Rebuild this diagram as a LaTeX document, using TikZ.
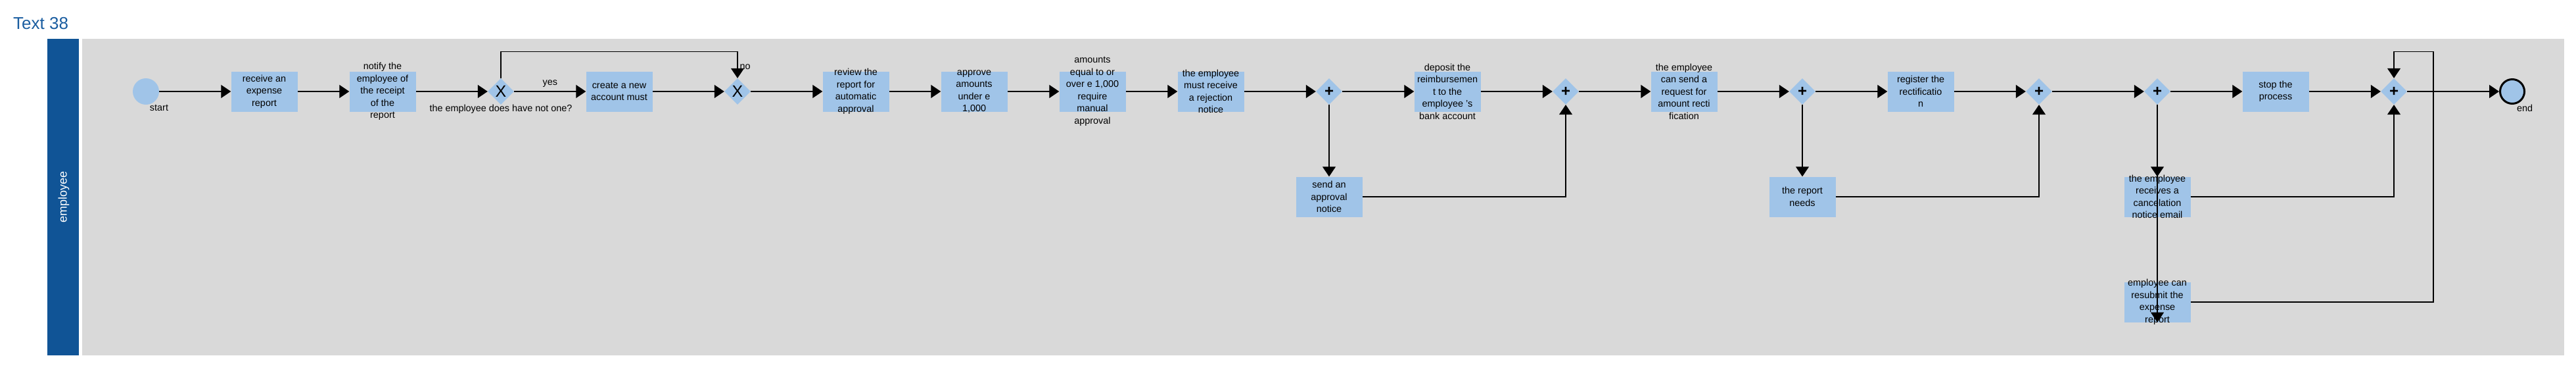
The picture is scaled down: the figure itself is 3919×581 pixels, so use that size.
\documentclass[tikz,border=0pt]{standalone}
\usepackage{fontspec}
\setmainfont{Liberation Sans}
\usepackage{tikz}
\usetikzlibrary{arrows.meta,shapes,positioning}
\usepackage{xcolor}
\definecolor{bpblue}{RGB}{16,84,150}
\definecolor{bptitle}{RGB}{26,93,160}
\definecolor{bplight}{RGB}{160,196,232}
\definecolor{bpgray}{RGB}{217,217,217}
\tikzstyle{flow} = [line width=1.2pt, -{Triangle[length=15pt,width=20pt]}]
\tikzstyle{task} = [rectangle, minimum width=101pt, minimum height=61pt, inner sep=0pt, fill=bplight]
\tikzstyle{tasktext} = [align=center, inner sep=0pt, font=\fontsize{14.4}{18.5}\selectfont]
\tikzstyle{lbl} = [inner sep=0pt, font=\fontsize{14.4}{17}\selectfont]
\tikzstyle{gate} = [diamond, aspect=1, minimum width=40pt, minimum height=40pt, inner sep=0pt, fill=bplight]
\tikzstyle{xgate} = [gate, label={[inner sep=0pt, font=\fontsize{25}{25}\selectfont]center:X}]
\tikzstyle{pgate} = [gate, label={[inner sep=0pt, font=\fontsize{24}{24}\selectfont\bfseries]center:+}]
\tikzstyle{event} = [circle, minimum size=40pt, inner sep=0pt, fill=bplight]

\begin{document}
\begin{tikzpicture}[x=1pt, y=1pt, node distance=180pt]
\useasboundingbox (0,0) rectangle (3919,-581);
% Pool and lane
\fill[bpblue] (72,-59) rectangle (120,-540);
\fill[bpgray] (125,-59) rectangle (3901,-540);
\node (title) [anchor=base west, inner sep=0pt, text=bptitle, font=\fontsize{26}{30}\selectfont] at (20,-44) {Text 38};
\node (lane) [rotate=90, text=white, font=\fontsize{18}{20}\selectfont] at (97,-299) {employee};

% Main flow
\node (start) [event, label={[lbl, xshift=20pt]below:start}] at (222,-139) {};
\node (recv) [task, right of=start, label={[tasktext]center:receive an\\expense\\report}] {};
\node (notify) [task, right of=recv, label={[tasktext]center:notify the\\employee of\\the receipt\\of the\\report}] {};
\node (g1) [xgate, right of=notify, label={[lbl]below:the employee does have not one?}] {};
\node (create) [task, right of=g1, label={[tasktext]center:create a new\\account must}] {};
\node (g2) [xgate, right of=create] {};
\node (review) [task, right of=g2, label={[tasktext]center:review the\\report for\\automatic\\approval}] {};
\node (approve) [task, right of=review, label={[tasktext]center:approve\\amounts\\under e\\1,000}] {};
\node (manual) [task, right of=approve, label={[tasktext]center:amounts\\equal to or\\over e 1,000\\require\\manual\\approval}] {};
\node (reject) [task, right of=manual, label={[tasktext]center:the employee\\must receive\\a rejection\\notice}] {};
\node (g3) [pgate, right of=reject] {};
\node (deposit) [task, right of=g3, label={[tasktext]center:deposit the\\reimbursemen\\t to the\\employee 's\\bank account}] {};
\node (g4) [pgate, right of=deposit] {};
\node (rectreq) [task, right of=g4, label={[tasktext]center:the employee\\can send a\\request for\\amount recti\\fication}] {};
\node (g5) [pgate, right of=rectreq] {};
\node (register) [task, right of=g5, label={[tasktext]center:register the\\rectificatio\\n}] {};
\node (g6) [pgate, right of=register] {};
\node (g7) [pgate, right of=g6] {};
\node (stop) [task, right of=g7, label={[tasktext]center:stop the\\process}] {};
\node (g8) [pgate, right of=stop] {};
\node (endev) [event, minimum size=37pt, draw=black, line width=3pt, right of=g8, label={[lbl, xshift=19pt]below:end}] {};

% Lower branches
\node (appr) [task, below of=g3, node distance=160pt, label={[tasktext]center:send an\\approval\\notice}] {};
\node (needs) [task, below of=g5, node distance=160pt, label={[tasktext]center:the report\\needs}] {};
\node (cancel) [task, below of=g7, node distance=160pt, label={[tasktext]center:the employee\\receives a\\cancelation\\notice email}] {};
\node (resub) [task, below of=cancel, node distance=160pt, label={[tasktext]center:employee can\\resubmit the\\expense\\report}] {};
\coordinate (loop) at ([shift={(60,40)}]g8.north);

% Sequence flows
\draw [flow] (start) -- (recv);
\draw [flow] (recv) -- (notify);
\draw [flow] (notify) -- (g1);
\draw [flow] (g1) -- node[lbl, above=6pt] {yes} (create);
\draw [flow] (g1.north) -- ++(0,40) -| node[lbl, pos=0.79, right=3pt] {no} (g2.north);
\draw [flow] (create) -- (g2);
\draw [flow] (g2) -- (review);
\draw [flow] (review) -- (approve);
\draw [flow] (approve) -- (manual);
\draw [flow] (manual) -- (reject);
\draw [flow] (reject) -- (g3);
\draw [flow] (g3) -- (deposit);
\draw [flow] (g3) -- (appr);
\draw [flow] (appr) -| (g4);
\draw [flow] (deposit) -- (g4);
\draw [flow] (g4) -- (rectreq);
\draw [flow] (rectreq) -- (g5);
\draw [flow] (g5) -- (register);
\draw [flow] (g5) -- (needs);
\draw [flow] (needs) -| (g6);
\draw [flow] (register) -- (g6);
\draw [flow] (g6) -- (g7);
\draw [flow] (g7) -- (stop);
\draw [flow] (g7) -- (cancel);
\draw [flow] (g7.south) -- (resub.south);
\draw [flow] (cancel) -| (g8);
\draw [flow] (resub) -| (loop) -| (g8.north);
\draw [flow] (stop) -- (g8);
\draw [flow] (g8) -- (endev);
\end{tikzpicture}
\end{document}
